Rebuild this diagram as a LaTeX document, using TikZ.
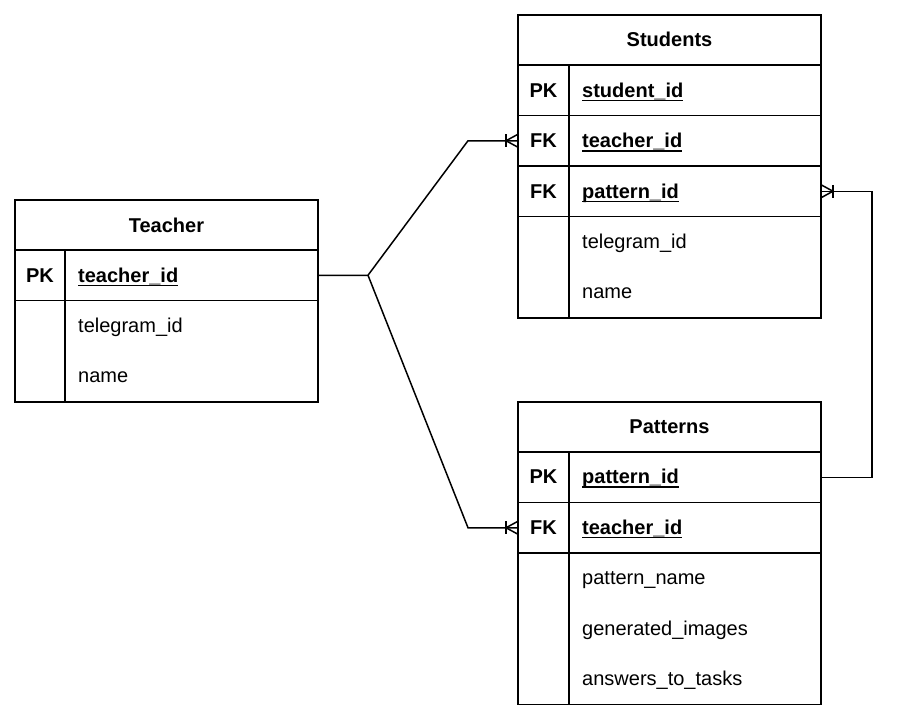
\documentclass[tikz,border=0pt]{standalone}
\usepackage{fontspec}
\setmainfont{Liberation Sans}
\newlength\kulwidth
% underlined key field name
\newcommand\keyfield[1]{\settowidth\kulwidth{#1}\rlap{\rule[-4.2pt]{\kulwidth}{1.5pt}}#1}
\newcommand\diagfont{\fontsize{20}{24}\selectfont}
\tikzset{
  cell/.style={draw, line width=1.7pt, inner sep=0pt, outer sep=0pt, anchor=north west, minimum height=50.5pt},
  title/.style={font=\diagfont\bfseries, anchor=base, inner sep=0pt},
  keylbl/.style={font=\diagfont\bfseries, anchor=base, inner sep=0pt},
  field/.style={font=\diagfont, anchor=base west, inner sep=0pt},
  keyfld/.style={font=\diagfont\bfseries, anchor=base west, inner sep=0pt},
  conn/.style={draw, line width=1.5pt, line join=miter},
  crowfoot/.pic={
    \draw[conn] (-12,-6.5) -- (-12,6.5);
    \draw[conn] (0,-6.5) -- (-12,0) -- (0,6.5);
  }
}
\begin{document}
\begin{tikzpicture}[x=1pt, y=-1pt]
\useasboundingbox (0,0) rectangle (898,718);

% Teacher
\node[cell, minimum width=303, minimum height=50] (t-head) at (15,200) {};
\node[cell, minimum width=50] (t-pk-k) at (15,250) {};
\node[cell, minimum width=253] (t-pk) at (65,250) {};
\node[cell, minimum width=50, minimum height=101.5] (t-rest-k) at (15,300.5) {};
\node[cell, minimum width=253, minimum height=101.5] (t-rest) at (65,300.5) {};
\node[title] (t-title) at (166.5,232) {Teacher};
\node[keylbl] (t-pk-lbl) at (40,282) {PK};
\node[keyfld] (t-f1) at (78,282) {\keyfield{teacher\_id}};
\node[field] (t-f2) at (78,332) {telegram\_id};
\node[field] (t-f3) at (78,382) {name};

% Students
\node[cell, minimum width=303, minimum height=50] (s-head) at (518,15) {};
\node[cell, minimum width=51] (s-pk-k) at (518,65) {};
\node[cell, minimum width=252] (s-pk) at (569,65) {};
\node[cell, minimum width=51] (s-fk1-k) at (518,115.5) {};
\node[cell, minimum width=252] (s-fk1) at (569,115.5) {};
\node[cell, minimum width=51] (s-fk2-k) at (518,166) {};
\node[cell, minimum width=252] (s-fk2) at (569,166) {};
\node[cell, minimum width=51, minimum height=101.5] (s-rest-k) at (518,216.5) {};
\node[cell, minimum width=252, minimum height=101.5] (s-rest) at (569,216.5) {};
\node[title] (s-title) at (669.5,46.5) {Students};
\node[keylbl] (s-pk-lbl) at (543.5,97) {PK};
\node[keyfld] (s-f1) at (582,97) {\keyfield{student\_id}};
\node[keylbl] (s-fk1-lbl) at (543.5,147.5) {FK};
\node[keyfld] (s-f2) at (582,147.5) {\keyfield{teacher\_id}};
\node[keylbl] (s-fk2-lbl) at (543.5,198) {FK};
\node[keyfld] (s-f3) at (582,198) {\keyfield{pattern\_id}};
\node[field] (s-f4) at (582,248) {telegram\_id};
\node[field] (s-f5) at (582,298.5) {name};

% Patterns
\node[cell, minimum width=303, minimum height=50] (p-head) at (518,402) {};
\node[cell, minimum width=51] (p-pk-k) at (518,452) {};
\node[cell, minimum width=252] (p-pk) at (569,452) {};
\node[cell, minimum width=51] (p-fk-k) at (518,502.5) {};
\node[cell, minimum width=252] (p-fk) at (569,502.5) {};
\node[cell, minimum width=51, minimum height=151.5] (p-rest-k) at (518,553) {};
\node[cell, minimum width=252, minimum height=151.5] (p-rest) at (569,553) {};
\node[title] (p-title) at (669.5,433) {Patterns};
\node[keylbl] (p-pk-lbl) at (543.5,483.5) {PK};
\node[keyfld] (p-f1) at (582,483.5) {\keyfield{pattern\_id}};
\node[keylbl] (p-fk-lbl) at (543.5,534) {FK};
\node[keyfld] (p-f2) at (582,534) {\keyfield{teacher\_id}};
\node[field] (p-f3) at (582,584.5) {pattern\_name};
\node[field] (p-f4) at (582,635) {generated\_images};
\node[field] (p-f5) at (582,685.5) {answers\_to\_tasks};

% Relations
\coordinate (j) at (368,275.25);
\coordinate (b1) at (468,140.75);
\coordinate (b2) at (468,527.75);
\coordinate (rx) at (872,0);
\draw[conn] (t-pk.east) -- (j) -- (b1) -- (s-fk1-k.west);
\draw[conn] (j) -- (b2) -- (p-fk-k.west);
\draw[conn] (p-pk.east) -- (p-pk.east -| rx) -- (s-fk2.east -| rx) -- (s-fk2.east);
\pic at (s-fk1-k.west) {crowfoot};
\pic at (p-fk-k.west) {crowfoot};
\pic[xscale=-1] at (s-fk2.east) {crowfoot};
\end{tikzpicture}
\end{document}
